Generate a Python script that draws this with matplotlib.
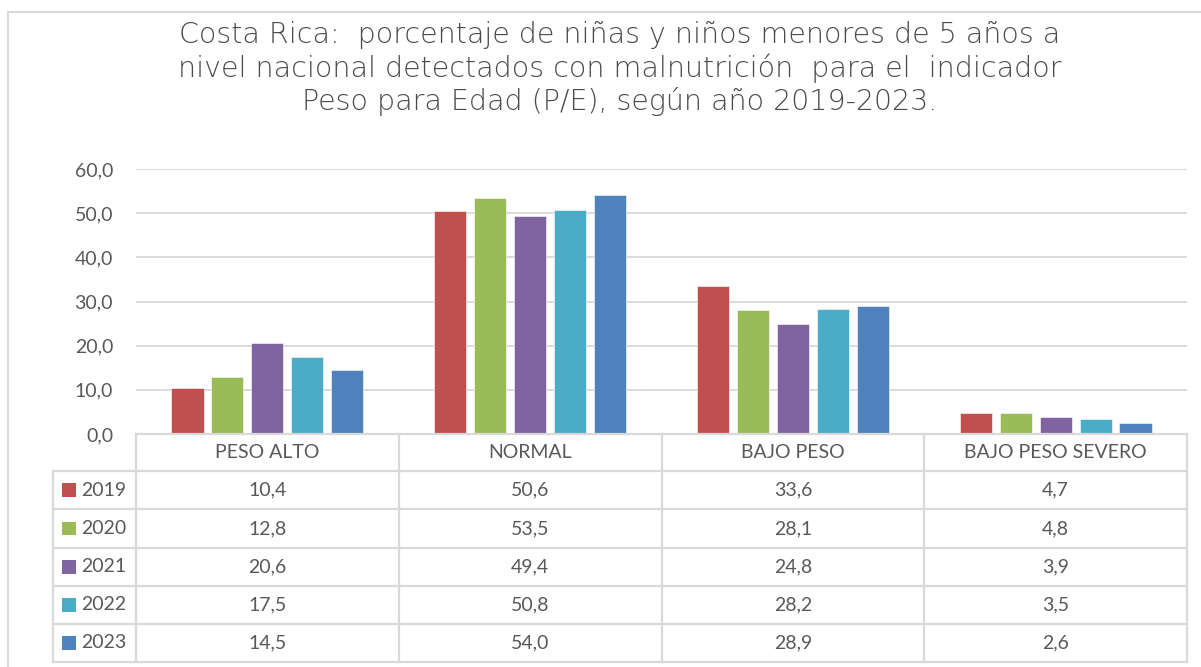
import matplotlib
matplotlib.use("Agg")
import matplotlib.pyplot as plt
from matplotlib.patches import Rectangle
import numpy as np

categories = ["PESO ALTO", "NORMAL", "BAJO PESO", "BAJO PESO SEVERO"]
years = ["2019", "2020", "2021", "2022", "2023"]
v2019 = [10.4, 50.6, 33.6, 4.7]
v2020 = [12.8, 53.5, 28.1, 4.8]
v2021 = [20.6, 49.4, 24.8, 3.9]
v2022 = [17.5, 50.8, 28.2, 3.5]
v2023 = [14.5, 54.0, 28.9, 2.6]
series = [v2019, v2020, v2021, v2022, v2023]
colors = ["#C0504D", "#9BBB59", "#8064A2", "#4BACC6", "#4F81BD"]
yticks = [0, 10, 20, 30, 40, 50, 60]
title_lines = ["Costa Rica:  porcentaje de niñas y niños menores de 5 años a",
               "nivel nacional detectados con malnutrición  para el  indicador",
               "Peso para Edad (P/E), según año 2019-2023."]

W, H = 1201, 667
fig = plt.figure(figsize=(W / 100, H / 100), dpi=100)
TXT = "#595959"
GRID = "#D9D9D9"
FONT = "Lato"

# overlay in pixel coordinates
ov = fig.add_axes([0, 0, 1, 1], zorder=5)
ov.set_xlim(0, W)
ov.set_ylim(H, 0)
ov.axis("off")
ov.patch.set_alpha(0)

# main chart
x0, x1, ytop, ybot = 136, 1187, 169, 434
ax = fig.add_axes([x0 / W, 1 - ybot / H, (x1 - x0) / W, (ybot - ytop) / H])
ax.set_xlim(-0.5, len(categories) - 0.5)
ax.set_ylim(0, 60)
ax.set_yticks(yticks)
ax.set_yticklabels([f"{t:.1f}".replace(".", ",") for t in yticks],
                   fontsize=14, color=TXT, fontfamily=FONT)
ax.tick_params(axis="y", length=0, pad=16.5)
ax.set_xticks([])
for s in ax.spines.values():
    s.set_visible(False)
ax.grid(axis="y", color=GRID, linewidth=1.3)
ax.set_axisbelow(True)

n = len(series)
step = 0.152
bw = 0.122
x = np.arange(len(categories))
for i, (vals, c) in enumerate(zip(series, colors)):
    ax.bar(x + (i - (n - 1) / 2) * step, vals, width=bw, color=c,
           edgecolor="white", linewidth=0.4, zorder=3)

# table
colw = (x1 - x0) / len(categories)
row_edges = [434, 471, 509, 548, 586, 624, 662]
lx = 53
lw = 1.6
ov.plot([x0, x1], [row_edges[0], row_edges[0]], color=GRID, lw=lw)
for ye in row_edges[1:]:
    ov.plot([lx, x1], [ye, ye], color=GRID, lw=lw)
ov.plot([lx, lx], [row_edges[1], row_edges[-1]], color=GRID, lw=lw)
for j in range(len(categories) + 1):
    xx = x0 + j * colw
    ov.plot([xx, xx], [row_edges[0], row_edges[-1]], color=GRID, lw=lw)

for j, cat in enumerate(categories):
    cx = x0 + (j + 0.5) * colw
    ov.text(cx, (row_edges[0] + row_edges[1]) / 2, cat, ha="center", va="center",
            fontsize=14, color=TXT, fontfamily=FONT)
    for i, vals in enumerate(series):
        cy = (row_edges[i + 1] + row_edges[i + 2]) / 2
        ov.text(cx, cy, f"{vals[j]:.1f}".replace(".", ","), ha="center", va="center",
                fontsize=14, color=TXT, fontfamily=FONT)

for i, (yr, c) in enumerate(zip(years, colors)):
    cy = (row_edges[i + 1] + row_edges[i + 2]) / 2
    ov.add_patch(Rectangle((62, cy - 6.8), 14, 13.6, facecolor=c, edgecolor="none"))
    ov.text(81, cy, yr, ha="left", va="center", fontsize=14, color=TXT, fontfamily=FONT)

# outer frame (top and left)
ov.plot([8, W], [12, 12], color=GRID, lw=1.5)
ov.plot([8, 8], [12, H], color=GRID, lw=1.5)

# title
for k, (line, ty) in enumerate(zip(title_lines, [35, 68, 101])):
    ov.text(620, ty, line, ha="center", va="center", fontsize=20.5, color="#4a4a4a",
            fontfamily="DejaVu Sans", fontweight="light")

fig.savefig("out.png", dpi=100)
